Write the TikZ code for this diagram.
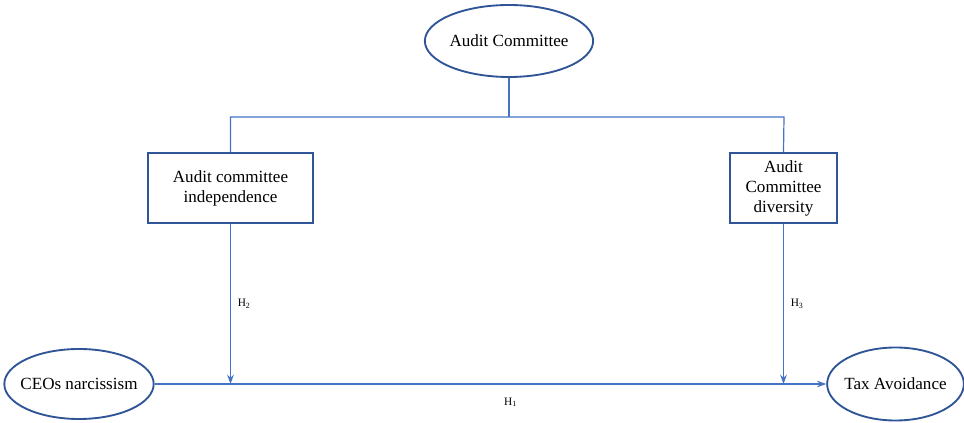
\documentclass[tikz,border=0pt]{standalone}
\usepackage{fontspec}
\setmainfont{Liberation Serif}
\usetikzlibrary{arrows.meta,shapes.geometric,positioning,calc}
\definecolor{edgeblue}{RGB}{47,85,151}
\definecolor{lineblue}{RGB}{68,114,196}

\begin{document}
\begin{tikzpicture}[
    x=0.75pt, y=-0.75pt,
    construct/.style={draw=edgeblue, line width=1.4pt, ellipse, inner ysep=0pt, align=center, font=\fontsize{12.8}{15}\selectfont},
    block/.style={draw=edgeblue, line width=1.4pt, rectangle, inner sep=0pt, minimum height=52.5pt, align=center, font=\fontsize{12.8}{15}\selectfont},
    link/.style={draw=lineblue, line width=0.9pt},
    arr/.style={link, -{Stealth[length=7pt, width=5pt]}},
    hyp/.style={font=\fontsize{8.5}{9}\selectfont, inner sep=2pt}
]
\useasboundingbox (0,0) rectangle (964,423);

\node[construct, inner xsep=0pt, minimum height=54pt] (ac) at (509,41) {Audit Committee};
\node[block, minimum width=123.75pt] (ind) at (230.5,188) {Audit committee\\independence};
\node[block, minimum width=80.25pt] (div) at (783.5,188) {Audit\\Committee\\diversity};
\node[construct, inner xsep=-4.3pt, minimum height=52.5pt] (ceo) at (79,384) {CEOs narcissism};
\node[construct, inner xsep=-2.1pt, minimum height=54.75pt] (tax) at (895.5,384) {Tax Avoidance};

\coordinate (split) at (784,117);

\draw[link] (ac.south) -- (ac.south |- split);
\draw[link] (ind.north) |- (split) -- (div.north);

\draw[arr] (ceo.east) -- node[hyp, pos=0.53, below=8pt] {H\textsubscript{1}} (tax.west);
\draw[arr] (ind.south) -- node[hyp, pos=0.5, right=3pt] {H\textsubscript{2}} (ind.south |- ceo.east);
\draw[arr] (div.south) -- node[hyp, pos=0.5, right=3pt] {H\textsubscript{3}} (div.south |- ceo.east);
\end{tikzpicture}
\end{document}
